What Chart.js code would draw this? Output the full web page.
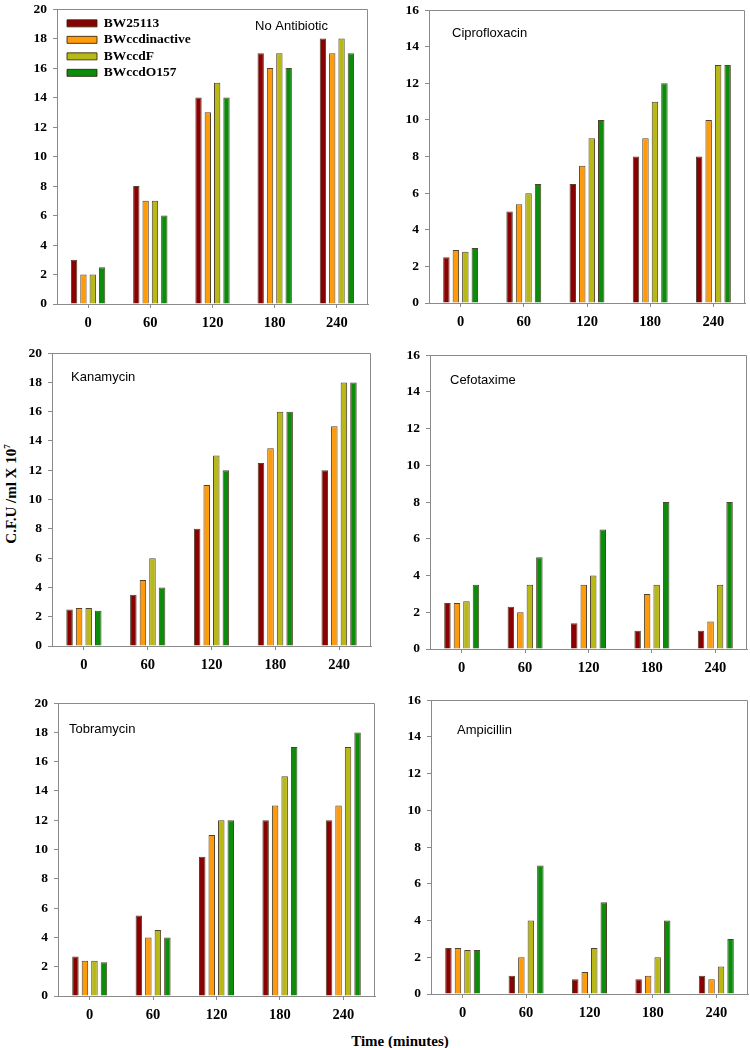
<!DOCTYPE html>
<html>
<head>
<meta charset="utf-8">
<script src="https://cdn.jsdelivr.net/npm/chart.js"></script>
<style>
  body { margin: 0; background: #fff; }
  #page { position: relative; width: 750px; height: 1048px; overflow: hidden; }
  #page canvas { position: absolute; }
  .ytitle { position: absolute; left: 11px; top: 494px; transform: translate(-50%, -50%) rotate(-90deg);
            font: bold 15px "Liberation Serif", serif; white-space: nowrap; }
  .ytitle sup { font-size: 9px; }
  .xtitle { position: absolute; left: 400px; top: 1041px; transform: translate(-50%, -50%);
            font: bold 15px "Liberation Serif", serif; white-space: nowrap; }
</style>
</head>
<body>
<div id="page">
  <div class="ytitle">C.F.U /ml X 10<sup>7</sup></div>
  <div class="xtitle">Time (minutes)</div>
</div>
<script>
const times = ['0', '60', '120', '180', '240'];
const strains = ['BW25113', 'BWccdinactive', 'BWccdF', 'BWccdO157'];
const colors = ['#8b0000', '#ff9a0a', '#b8b816', '#0b8c0b'];

// one row per strain, same order as strains
const noAntibiotic = [
  [3, 8, 14, 17, 18],
  [2, 7, 13, 16, 17],
  [2, 7, 15, 17, 18],
  [2.5, 6, 14, 16, 17]
];
const ciprofloxacin = [
  [2.5, 5, 6.5, 8, 8],
  [2.9, 5.4, 7.5, 9, 10],
  [2.8, 6, 9, 11, 13],
  [3, 6.5, 10, 12, 13]
];
const kanamycin = [
  [2.5, 3.5, 8, 12.5, 12],
  [2.6, 4.5, 11, 13.5, 15],
  [2.6, 6, 13, 16, 18],
  [2.4, 4, 12, 16, 18]
];
const cefotaxime = [
  [2.5, 2.3, 1.4, 1, 1],
  [2.5, 2, 3.5, 3, 1.5],
  [2.6, 3.5, 4, 3.5, 3.5],
  [3.5, 5, 6.5, 8, 8]
];
const tobramycin = [
  [2.7, 5.5, 9.5, 12, 12],
  [2.4, 4, 11, 13, 13],
  [2.4, 4.5, 12, 15, 17],
  [2.3, 4, 12, 17, 18]
];
const ampicillin = [
  [2.5, 1, 0.8, 0.8, 1],
  [2.5, 2, 1.2, 1, 0.8],
  [2.4, 4, 2.5, 2, 1.5],
  [2.4, 7, 5, 4, 3]
];

const panels = [
  { name: 'No Antibiotic', data: noAntibiotic,  max: 20, box: [57, 368, 5, 304],   at: [198, 17], legend: true },
  { name: 'Ciprofloxacin', data: ciprofloxacin, max: 16, box: [429, 745, 6, 303],  at: [23, 23] },
  { name: 'Kanamycin',     data: kanamycin,     max: 20, box: [52, 371, 349, 646], at: [19, 24] },
  { name: 'Cefotaxime',    data: cefotaxime,    max: 16, box: [430, 747, 351, 649], at: [20, 25] },
  { name: 'Tobramycin',    data: tobramycin,    max: 20, box: [58, 375, 699, 996], at: [11, 26] },
  { name: 'Ampicillin',    data: ampicillin,    max: 16, box: [431, 748, 696, 994], at: [26, 30] }
];

const PAD_T = 10, PAD_R = 3, Y_W = 50, X_H = 30;
const AXIS = '#8a8a8a';

Chart.defaults.font.family = '"Liberation Serif", "Times New Roman", serif';
Chart.defaults.font.size = 13;
Chart.defaults.font.weight = 'bold';
Chart.defaults.color = '#000';

// top and right edges of the frame
const frame = {
  id: 'frame',
  afterDatasetsDraw(chart) {
    const a = chart.chartArea, ctx = chart.ctx;
    ctx.save();
    ctx.strokeStyle = AXIS;
    ctx.lineWidth = 1;
    ctx.beginPath();
    ctx.moveTo(Math.round(a.left), Math.round(a.top) + 0.5);
    ctx.lineTo(Math.round(a.right) - 0.5, Math.round(a.top) + 0.5);
    ctx.lineTo(Math.round(a.right) - 0.5, Math.round(a.bottom));
    ctx.stroke();
    ctx.restore();
  }
};

const panelName = {
  id: 'panelName',
  afterDatasetsDraw(chart, args, opts) {
    const a = chart.chartArea, ctx = chart.ctx;
    ctx.save();
    ctx.font = '13px "Liberation Sans", Arial, sans-serif';
    ctx.fillStyle = '#000';
    ctx.textBaseline = 'middle';
    ctx.fillText(opts.text, a.left + opts.dx, a.top + opts.dy);
    ctx.restore();
  }
};

// put the legend in the upper left corner of the plot
const legendSpot = {
  id: 'legendSpot',
  afterLayout(chart) {
    const lg = chart.legend, a = chart.chartArea;
    if (!lg || !lg.options.display) return;
    lg.left = a.left + 7;
    lg.top = a.top + 4.5;
    lg.right = a.right;
    lg.bottom = a.bottom;
  }
};

const page = document.getElementById('page');

panels.forEach(p => {
  const [l, r, t, b] = p.box;
  const w = r - l + Y_W + PAD_R;
  const h = b - t + PAD_T + X_H;
  const cv = document.createElement('canvas');
  cv.width = w;
  cv.height = h;
  cv.style.width = w + 'px';
  cv.style.height = h + 'px';
  cv.style.left = (l - Y_W) + 'px';
  cv.style.top = (t - PAD_T) + 'px';
  page.appendChild(cv);

  new Chart(cv, {
    type: 'bar',
    data: {
      labels: times,
      datasets: strains.map((s, i) => ({
        label: s,
        data: p.data[i],
        backgroundColor: colors[i],
        borderColor: 'rgba(50, 35, 10, 0.85)',
        borderWidth: 1,
        categoryPercentage: 0.6,
        barPercentage: 0.68
      }))
    },
    options: {
      responsive: false,
      animation: false,
      layout: { padding: { top: PAD_T, right: PAD_R, left: 0, bottom: 0 } },
      scales: {
        x: {
          grid: { display: true, drawOnChartArea: false, offset: false, tickLength: 4, color: AXIS },
          border: { color: AXIS },
          ticks: { padding: 7, font: { size: 14.5 } },
          afterFit(scale) { scale.height = X_H; }
        },
        y: {
          min: 0,
          max: p.max,
          grid: { display: true, drawOnChartArea: false, tickLength: 4, color: AXIS },
          border: { color: AXIS },
          ticks: { stepSize: 2, padding: 6, font: { size: 13.5 } },
          afterFit(scale) { scale.width = Y_W; }
        }
      },
      plugins: {
        tooltip: { enabled: false },
        legend: {
          display: !!p.legend,
          position: 'chartArea',
          align: 'start',
          labels: { boxWidth: 30, boxHeight: 7, padding: 3, font: { size: 13.5, weight: 'bold' } }
        },
        panelName: { text: p.name, dx: p.at[0], dy: p.at[1] }
      }
    },
    plugins: [frame, panelName, legendSpot]
  });
});
</script>
</body>
</html>
